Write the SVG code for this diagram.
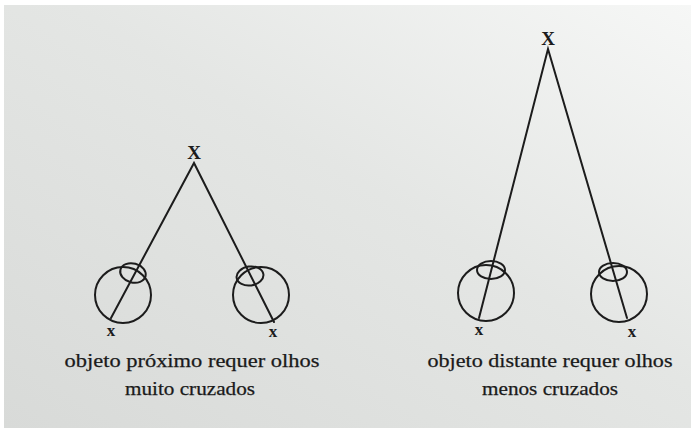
<svg xmlns="http://www.w3.org/2000/svg" width="694" height="433" viewBox="0 0 694 433">
  <defs>
    <linearGradient id="paper" x1="0" y1="1" x2="1" y2="0">
      <stop offset="0" stop-color="#d8dad8"/>
      <stop offset="0.55" stop-color="#e4e6e4"/>
      <stop offset="1" stop-color="#f6f7f6"/>
    </linearGradient>
    <style>
      .ray { stroke: #1c1c1c; stroke-width: 2; fill: none; stroke-linecap: round; }
      .eye { stroke: #1c1c1c; stroke-width: 2; fill: none; }
      .big { font-family: "Liberation Serif", serif; font-size: 19px; font-weight: bold; fill: #1c1c1c; text-anchor: middle; }
      .small { font-family: "Liberation Serif", serif; font-size: 17px; font-weight: bold; fill: #1c1c1c; text-anchor: middle; }
      .cap { font-family: "Liberation Serif", serif; font-size: 19px; fill: #1a1a1a; text-anchor: middle; stroke: #1a1a1a; stroke-width: 0.25; }
    </style>
  </defs>

  <!-- page -->
  <rect x="0" y="0" width="694" height="433" fill="#ffffff"/>
  <rect x="4" y="5" width="687" height="423" fill="url(#paper)"/>

  <!-- rays of sight -->
  <g id="connectors">
    <polyline class="ray" points="111,318 194,163 274,322"/>
    <polyline class="ray" points="479,318 548,49 627,318"/>
  </g>

  <!-- near object -->
  <g id="near-object">
    <text class="big" x="194" y="159">X</text>
  </g>
  <g id="near-left-eye">
    <circle class="eye" cx="123" cy="295" r="28"/>
    <ellipse class="eye" cx="133" cy="273" rx="13" ry="9.5" transform="rotate(15 133 273)"/>
    <text class="small" x="111" y="336">x</text>
  </g>
  <g id="near-right-eye">
    <circle class="eye" cx="261" cy="295" r="28"/>
    <ellipse class="eye" cx="250" cy="276" rx="13.5" ry="9.5" transform="rotate(-8 250 276)"/>
    <text class="small" x="273" y="337">x</text>
  </g>
  <g id="near-caption">
    <text class="cap" x="192" y="367" textLength="255" lengthAdjust="spacingAndGlyphs">objeto próximo requer olhos</text>
    <text class="cap" x="190" y="395" textLength="130" lengthAdjust="spacingAndGlyphs">muito cruzados</text>
  </g>

  <!-- distant object -->
  <g id="far-object">
    <text class="big" x="548" y="45">X</text>
  </g>
  <g id="far-left-eye">
    <circle class="eye" cx="486" cy="293" r="28"/>
    <ellipse class="eye" cx="491" cy="270" rx="14" ry="9"/>
    <text class="small" x="479" y="335">x</text>
  </g>
  <g id="far-right-eye">
    <circle class="eye" cx="619" cy="294" r="28"/>
    <ellipse class="eye" cx="613" cy="272" rx="14" ry="9"/>
    <text class="small" x="632" y="337">x</text>
  </g>
  <g id="far-caption">
    <text class="cap" x="550" y="367" textLength="245" lengthAdjust="spacingAndGlyphs">objeto distante requer olhos</text>
    <text class="cap" x="550" y="395" textLength="136" lengthAdjust="spacingAndGlyphs">menos cruzados</text>
  </g>
</svg>
